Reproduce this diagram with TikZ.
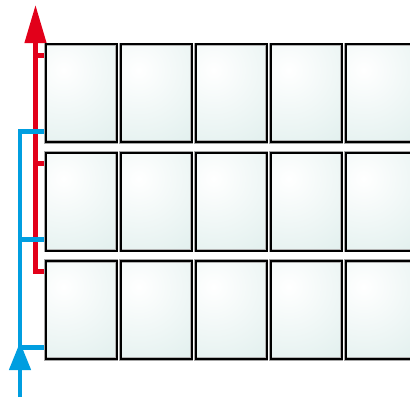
\documentclass[tikz,border=0pt]{standalone}
\usetikzlibrary{arrows.meta,backgrounds}
\definecolor{pipered}{RGB}{226,0,26}
\definecolor{pipeblue}{RGB}{0,158,224}
\definecolor{panelc}{RGB}{192,222,218}
\begin{document}
\begin{tikzpicture}[x=1pt,y=-1pt,
  panel/.style={rectangle, minimum width=71pt, minimum height=98pt, inner sep=0pt,
    draw=black, line width=2pt, fill=panelc,
    preaction={draw=black!35, line width=3.4pt},
    path picture={\shade[inner color=white, outer color=panelc] ([xshift=18pt,yshift=-26pt]path picture bounding box.north west) circle (190pt);
      \draw[black!30, line width=3.8pt] (path picture bounding box.south west) rectangle (path picture bounding box.north east);}},
  redpipe/.style={draw=pipered, line width=4.3pt, line join=miter},
  bluepipe/.style={draw=pipeblue, line width=4.5pt, line join=miter}]
\useasboundingbox (0,0) rectangle (410,397);
\clip (0,0) rectangle (410,397);
\foreach \r/\yy in {1/93.2,2/201.5,3/309.8}
  \foreach \c/\xx in {1/81,2/156,3/231,4/306,5/381}
    \node[panel] (p\r\c) at (\xx,\yy) {};
\coordinate (rtop) at (35.5,5);
\coordinate (r1) at (35.5,55.5);
\coordinate (r2) at (35.5,163.5);
\coordinate (r3) at (35.5,271.5);
\coordinate (bbot) at (20,397);
\coordinate (b1) at (20,131.5);
\coordinate (b2) at (20,239.5);
\coordinate (b3) at (20,347.5);
\coordinate (btip) at (20,342);
\begin{scope}[on background layer]
\draw[redpipe, -{Triangle[length=38pt,width=21pt]}] (p31.west |- r3) -- (r3) -- (rtop);
\draw[redpipe] (r1) -- (r1 -| p11.west);
\draw[redpipe] (r2) -- (r2 -| p21.west);
\draw[bluepipe] (p11.west |- b1) -- (b1) -- (bbot);
\draw[bluepipe] (b2) -- (b2 -| p21.west);
\draw[bluepipe] (b3) -- (b3 -| p31.west);
\draw[bluepipe, -{Triangle[length=28pt,width=21pt]}] (bbot) -- (btip);
\end{scope}
\end{tikzpicture}
\end{document}
